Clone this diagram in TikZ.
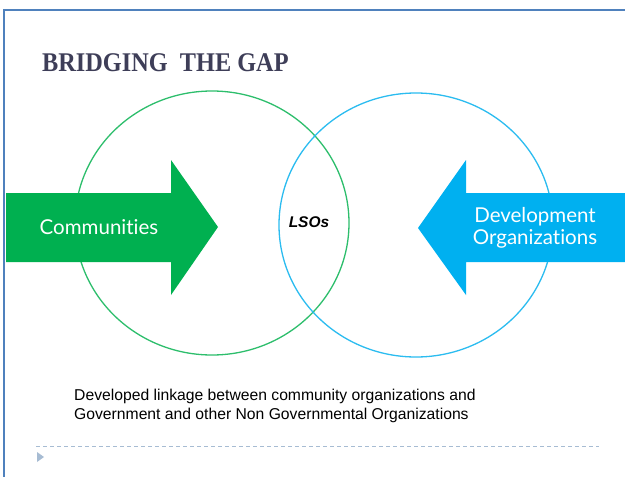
\documentclass[tikz,border=0pt]{standalone}
\usepackage{fontspec}
\setmainfont{Liberation Sans}
\newfontfamily\gillfont[Ligatures=NoCommon]{Lato}
\newfontfamily\titlefont{Liberation Serif}
\usetikzlibrary{shapes.geometric,positioning}
\definecolor{frameB}{HTML}{4F81BD}
\definecolor{grnA}{HTML}{00B050}
\definecolor{grnC}{HTML}{2DBE6C}
\definecolor{bluA}{HTML}{00B0F0}
\definecolor{bluC}{HTML}{2BBCF0}
\definecolor{ttl}{HTML}{3E3E58}
\definecolor{rule}{HTML}{A7BCD3}
\tikzset{
  venn/.style  ={draw=#1, ellipse, line width=1.3pt, inner sep=0pt,
                 minimum width=274pt, minimum height=264pt},
  lbl/.style   ={text=white, align=center, inner sep=0pt,
                 font=\gillfont\fontsize{20.5}{22.5}\selectfont},
  frm/.style   ={draw=frameB, line width=2pt},
  sep/.style   ={draw=rule, line width=.8pt, dash pattern=on 4pt off 3pt},
}
\begin{document}
\begin{tikzpicture}[x=1pt,y=-1pt]
  \useasboundingbox (0,0) rectangle (625,477);
  \fill[white] (0,0) rectangle (625,477);
  % slide frame
  \coordinate (fTR) at (625,10);
  \coordinate (fTL) at (4,10);
  \coordinate (fBL) at (4,477);
  \draw[frm] (fTR) -- (fTL) -- (fBL);
  \node[anchor=west, text=ttl, inner sep=0pt,
        font=\titlefont\bfseries\fontsize{27}{30}\selectfont]
       (title) at (42,63) {\scalebox{0.9}[1]{BRIDGING\ \ THE GAP}};
  % overlapping circles
  \node[venn=grnC](comC) at (212,223){};
  \node[venn=bluC](devC) at (416,225){};
  % arrows pointing to the middle
  \fill[grnA] (6,193) -- (171,193) -- (171,160) -- (218,227)
              -- (171,295) -- (171,262) -- (6,262) -- cycle;
  \fill[bluA] (625,193) -- (466,193) -- (466,160) -- (418,228)
              -- (466,295) -- (466,262) -- (625,262) -- cycle;
  \node[lbl](comm) at (99,227){Communities};
  \node[lbl](devo) at (535,228){Development\\Organizations};
  \node[font=\bfseries\itshape\fontsize{15.5}{18}\selectfont](lso) at (309,222){LSOs};
  % caption
  \node[anchor=north west, align=left, inner sep=0pt,
        font=\fontsize{15.7}{18.5}\selectfont]
       (note) at (74,389){Developed linkage between community organizations and\\
       Government and other Non Governmental Organizations};
  % footer rule
  \coordinate (sL) at (36,446);
  \coordinate (sR) at (599,446);
  \draw[sep] (sL) -- (sR);
  \fill[rule] (37,452) -- (44,457) -- (37,462) -- cycle;
\end{tikzpicture}
\end{document}
